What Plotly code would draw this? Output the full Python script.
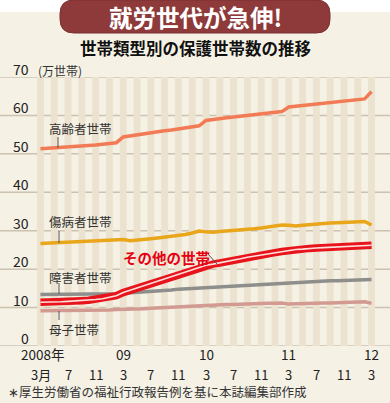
import plotly.graph_objects as go

# ---------------- data (monthly, 2008/3 .. 2012/3) ----------------
months = list(range(49))
elderly = [51.3, 51.4, 51.6, 51.7, 51.8, 51.9, 52.1, 52.2, 52.3, 52.5, 52.7, 52.9,
           54.4, 54.7, 55.0, 55.2, 55.5, 55.7, 56.0, 56.2, 56.5, 56.7, 57.0, 57.3,
           58.7, 59.0, 59.2, 59.4, 59.6, 59.8, 60.0, 60.2, 60.4, 60.6, 60.8, 61.0,
           62.2, 62.4, 62.6, 62.8, 63.0, 63.1, 63.3, 63.5, 63.7, 63.9, 64.1, 64.3,
           66.2]
sick = [26.7, 26.8, 26.9, 27.0, 27.0, 27.1, 27.1, 27.2, 27.3, 27.4, 27.6, 27.8,
        27.7, 27.4, 27.5, 27.7, 27.9, 28.1, 28.3, 28.5, 28.8, 29.0, 29.4, 29.9,
        29.7, 29.6, 29.8, 29.9, 30.1, 30.3, 30.4, 30.5, 30.7, 30.9, 31.2, 31.5,
        31.4, 31.2, 31.4, 31.6, 31.8, 31.9, 32.0, 32.1, 32.2, 32.3, 32.3, 32.4,
        31.5]
other = [11.4, 11.4, 11.5, 11.5, 11.6, 11.7, 11.8, 11.9, 12.1, 12.3, 12.7, 13.1,
         13.9, 14.5, 15.2, 15.8, 16.4, 17.0, 17.6, 18.2, 18.8, 19.4, 20.0, 20.5,
         21.0, 21.3, 21.6, 22.0, 22.3, 22.7, 23.1, 23.4, 23.7, 24.0, 24.3, 24.6,
         24.9, 25.1, 25.2, 25.4, 25.5, 25.6, 25.7, 25.8, 25.9, 26.0, 26.0, 26.1,
         26.2]
disabled = [13.4, 13.4, 13.4, 13.4, 13.4, 13.5, 13.5, 13.5, 13.5, 13.6, 13.6, 13.6,
            13.7, 13.8, 13.9, 14.0, 14.2, 14.3, 14.5, 14.6, 14.8, 14.9, 15.0, 15.2,
            15.3, 15.4, 15.5, 15.6, 15.7, 15.8, 15.9, 16.0, 16.1, 16.2, 16.3, 16.4,
            16.5, 16.6, 16.7, 16.8, 16.9, 16.9, 17.0, 17.0, 17.1, 17.2, 17.2, 17.3,
            17.3]
mother = [9.2, 9.2, 9.2, 9.2, 9.2, 9.3, 9.3, 9.3, 9.3, 9.4, 9.4, 9.5,
          9.5, 9.6, 9.6, 9.7, 9.8, 9.9, 10.0, 10.1, 10.2, 10.3, 10.4, 10.6,
          10.6, 10.7, 10.7, 10.8, 10.8, 10.9, 10.9, 11.0, 11.0, 11.1, 11.1, 11.2,
          10.9, 11.0, 11.0, 11.1, 11.1, 11.2, 11.2, 11.3, 11.3, 11.4, 11.4, 11.5,
          11.1]

y_ticks = [0, 10, 20, 30, 40, 50, 60, 70]
x_tick_pos = [0, 4, 8, 12, 16, 20, 24, 28, 32, 36, 40, 44, 48]
x_tick_month = ["3月", "7", "11", "3", "7", "11", "3", "7", "11", "3", "7", "11", "3"]
x_year_pos = [0, 12, 24, 36, 48]
x_year_lab = ["2008年", "09", "10", "11", "12"]

title = "就労世代が急伸!"
subtitle = "世帯類型別の保護世帯数の推移"
unit = "(万世帯)"
note = "∗厚生労働省の福祉行政報告例を基に本誌編集部作成"

# ---------------- geometry helpers ----------------
W, H = 390, 403
L, R, T, B = 37, 15, 77, 57
PW, PH = W - L - R, H - T - B


def px(x):
    return (x - L) / PW


def py(y):
    return (H - B - y) / PH


BG = "#f5f1e5"
STRIPE = "#ebe3cf"
GRID = "#cbc2b0"
NUMFONT = "Liberation Sans Narrow, Arial Narrow, Noto Sans CJK JP, sans-serif"
JPFONT = "Noto Sans CJK JP, sans-serif"

fig = go.Figure()

series = [
    (mother, "#d39a92", 3.5),
    (disabled, "#8e8e8c", 3.5),
    (sick, "#e9a61a", 3.5),
    (elderly, "#f27b56", 3.5),
]
for vals, col, w in series:
    fig.add_trace(go.Scatter(x=months, y=vals, mode="lines",
                             line=dict(color=col, width=w), hoverinfo="skip"))
fig.add_trace(go.Scatter(x=months, y=other, mode="lines",
                         line=dict(color="#e8141c", width=7.5), hoverinfo="skip"))
fig.add_trace(go.Scatter(x=months, y=other, mode="lines",
                         line=dict(color="#ffe0dc", width=1.6), hoverinfo="skip"))

# y-axis dots
fig.add_trace(go.Scatter(x=[-1.25] * len(y_ticks), y=y_ticks, mode="markers",
                         marker=dict(color="#111", size=4), cliponaxis=False,
                         hoverinfo="skip"))

shapes = []
for i in range(0, 49, 2):
    shapes.append(dict(type="rect", xref="x", yref="y", x0=i - 0.5, x1=i + 0.5,
                       y0=0, y1=70, fillcolor=STRIPE, line=dict(width=0),
                       layer="below"))
for v in y_ticks:
    shapes.append(dict(type="line", xref="paper", yref="y", x0=px(0), x1=px(W),
                       y0=v, y1=v, line=dict(color=GRID, width=1.5), layer="below"))

# top white strip
shapes.append(dict(type="rect", xref="paper", yref="paper", x0=px(0), x1=px(W),
                   y0=py(12), y1=py(0), fillcolor="white", line=dict(width=0),
                   layer="below"))
# banner rounded rect
bx0, bx1, by0, by1, r = 60, 330, 0, 33, 14
path = (f"M {px(bx0 + r)},{py(by0)} L {px(bx1 - r)},{py(by0)} "
        f"Q {px(bx1)},{py(by0)} {px(bx1)},{py(by0 + r)} "
        f"L {px(bx1)},{py(by1 - r)} Q {px(bx1)},{py(by1)} {px(bx1 - r)},{py(by1)} "
        f"L {px(bx0 + r)},{py(by1)} Q {px(bx0)},{py(by1)} {px(bx0)},{py(by1 - r)} "
        f"L {px(bx0)},{py(by0 + r)} Q {px(bx0)},{py(by0)} {px(bx0 + r)},{py(by0)} Z")
shapes.append(dict(type="path", xref="paper", yref="paper", path=path,
                   fillcolor="#8e3a3b", line=dict(color="#7a2e2f", width=1)))

# leader lines
for (x0, y0, x1, y1) in [(58, 137, 58, 148), (59, 231, 59, 243),
                         (59, 283, 59, 294), (59, 311, 59, 320),
                         (208, 254, 217, 264)]:
    shapes.append(dict(type="line", xref="paper", yref="paper",
                       x0=px(x0), y0=py(y0), x1=px(x1), y1=py(y1),
                       line=dict(color="#555", width=1)))

ann = []


def text(x, y, s, size, color="#222", font=JPFONT, xa="left", ya="middle", bold=False):
    ann.append(dict(xref="paper", yref="paper", x=px(x), y=py(y),
                    text=f"<b>{s}</b>" if bold else s, showarrow=False,
                    xanchor=xa, yanchor=ya, borderpad=0,
                    font=dict(family=font, size=size, color=color)))


text(195, 17.5, title, 23.5, "white", bold=True, xa="center")
text(195, 48, subtitle, 16.5, "#111", bold=True, xa="center")
for v in y_ticks:
    yy = H - B - v * PH / 70
    text(29.5, yy - 8, str(v), 14, "#222", NUMFONT, xa="right")
text(37, 70, unit, 12, "#333")
for p, lab in zip(x_tick_pos, x_tick_month):
    text(40.5 + p * PW / 49, 363.5, lab, 13, "#222", NUMFONT, xa="center", ya="top")
for p, lab in zip(x_year_pos, x_year_lab):
    text(40.5 + p * PW / 49 + (2 if p == 0 else 0), 364.5, lab, 13.5, "#222",
         NUMFONT, xa="center", ya="bottom")
text(48, 128, "高齢者世帯", 12.5, "#333")
text(48, 221, "傷病者世帯", 12.5, "#333")
text(48, 277, "障害者世帯", 12.5, "#333")
text(48, 329, "母子世帯", 12.5, "#333")
text(122, 257, "その他の世帯", 14.5, "#e60012", bold=True)
text(7, 391, note, 12.5, "#333")

fig.update_layout(
    width=W, height=H, margin=dict(l=L, r=R, t=T, b=B, pad=0),
    paper_bgcolor=BG, plot_bgcolor=BG, showlegend=False,
    xaxis=dict(range=[-0.5, 48.5], showgrid=False, zeroline=False,
               showticklabels=False, showline=False, fixedrange=True),
    yaxis=dict(range=[0, 70], showgrid=False, zeroline=False,
               showticklabels=False, showline=False, fixedrange=True),
    shapes=shapes, annotations=ann,
)

fig.write_html("out.html", config={"displayModeBar": False},
               post_script="document.body.style.margin='0';document.body.style.overflow='hidden';")
